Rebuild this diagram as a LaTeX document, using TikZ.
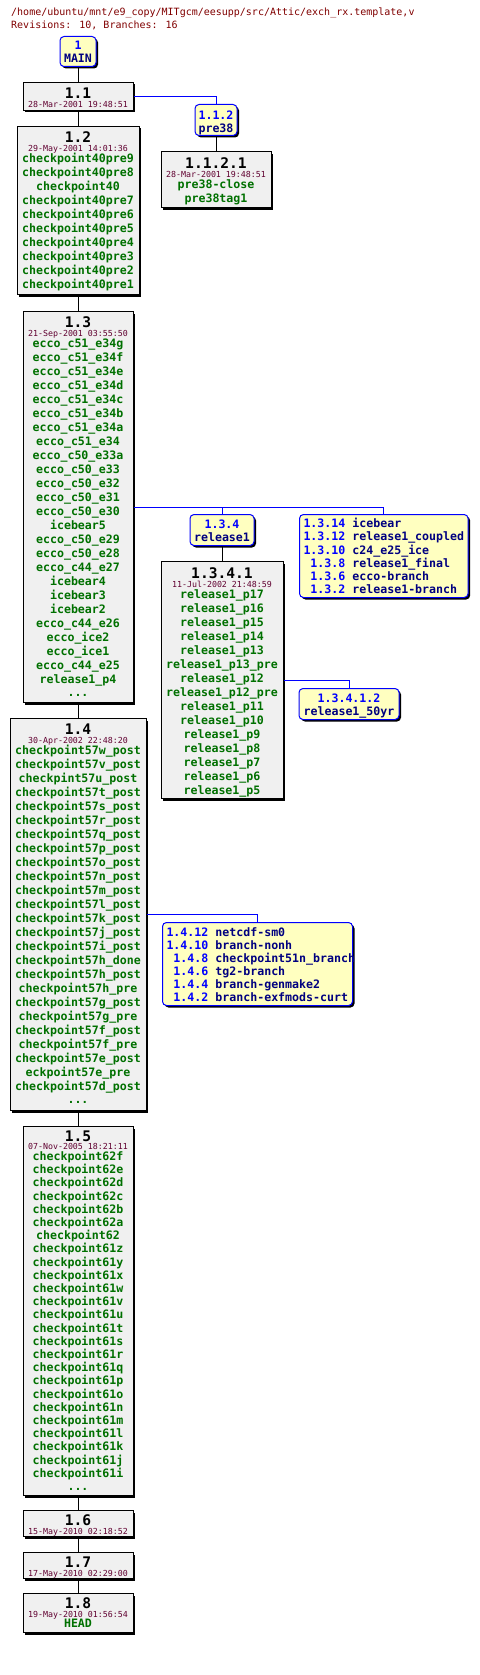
\documentclass[tikz,border=0pt]{standalone}
\usepackage{fontspec}
\usepackage{array}
\usetikzlibrary{shadows}

\newfontfamily\monofont{DejaVu Sans Mono}

\definecolor{revfill}{HTML}{F0F0F0}
\definecolor{brfill}{HTML}{FFFFC0}
\definecolor{tagcol}{HTML}{007000}
\definecolor{datecol}{HTML}{600030}
\definecolor{headcol}{HTML}{800000}
\definecolor{brnum}{HTML}{0000FF}
\definecolor{brname}{HTML}{000080}

\newcommand\revnum[1]{{\bfseries\color{black}\fontsize{14.6}{14}\selectfont #1}}
\newcommand\revdate[1]{{\mdseries\color{datecol}\fontsize{8.3}{9}\selectfont #1}}

\tikzset{
  boxshadow/.style={drop shadow={shadow xshift=2pt, shadow yshift=-2pt, opacity=1, fill=black}},
  revbox/.style={draw=black, line width=1pt, fill=revfill, boxshadow, anchor=north,
    inner sep=0pt, minimum width=110pt, align=center, text=tagcol,
    font=\monofont\bfseries\fontsize{11.6}{14}\selectfont},
  branchbox/.style={draw=brnum, line width=1pt, fill=brfill, rounded corners=4pt, boxshadow,
    anchor=north, inner sep=0pt, align=center, text=brname,
    font=\monofont\bfseries\fontsize{11.6}{13}\selectfont},
  listbox/.style={draw=brnum, line width=1pt, fill=brfill, rounded corners=4pt, boxshadow,
    anchor=north west, inner xsep=4pt, inner ysep=0pt, text=brname,
    font=\monofont\bfseries\fontsize{11.6}{13}\selectfont},
  trunkline/.style={draw=black, line width=1pt},
  branchline/.style={draw=brnum, line width=1pt}
}

\begin{document}
\begin{tikzpicture}[x=1pt, y=-1pt]
  \useasboundingbox (0,0) rectangle (479,1675);

  % header
  \node[anchor=base west, inner sep=0pt, text=headcol, font=\monofont\fontsize{10}{12}\selectfont]
    (title) at (11,16) {/home/ubuntu/mnt/e9\_copy/MITgcm/eesupp/src/Attic/exch\_rx.template,v};
  \node[anchor=base west, inner sep=0pt, text=headcol, font=\monofont\fontsize{10}{12}\selectfont]
    (stats) at (11,29) {Revisions: 10, Branches: 16};

  % trunk
  \node[branchbox, minimum width=36pt, text height=26.5pt, text depth=3.5pt] (main) at (78,36)
    {\color{brnum}1\\MAIN};
  \node[revbox, text height=25pt, text depth=3pt] (r11) at (78,82)
    {\revnum{1.1}\\[-5pt]\revdate{28-Mar-2001 19:48:51}};
  \node[revbox, minimum width=122pt, text height=162pt, text depth=6pt] (r12) at (78,126)
    {\revnum{1.2}\\[-5pt]\revdate{29-May-2001 14:01:36}\\[-3pt]
     checkpoint40pre9\\checkpoint40pre8\\checkpoint40\\checkpoint40pre7\\checkpoint40pre6\\
     checkpoint40pre5\\checkpoint40pre4\\checkpoint40pre3\\checkpoint40pre2\\checkpoint40pre1};
  \node[revbox, text height=385pt, text depth=6pt] (r13) at (78,311)
    {\revnum{1.3}\\[-5pt]\revdate{21-Sep-2001 03:55:50}\\[-3pt]
     ecco\_c51\_e34g\\ecco\_c51\_e34f\\ecco\_c51\_e34e\\ecco\_c51\_e34d\\ecco\_c51\_e34c\\
     ecco\_c51\_e34b\\ecco\_c51\_e34a\\ecco\_c51\_e34\\ecco\_c50\_e33a\\ecco\_c50\_e33\\
     ecco\_c50\_e32\\ecco\_c50\_e31\\ecco\_c50\_e30\\icebear5\\ecco\_c50\_e29\\
     ecco\_c50\_e28\\ecco\_c44\_e27\\icebear4\\icebear3\\icebear2\\
     ecco\_c44\_e26\\ecco\_ice2\\ecco\_ice1\\ecco\_c44\_e25\\release1\_p4\\[-1pt]...};
  \node[revbox, minimum width=136pt, text height=385pt, text depth=7pt] (r14) at (78,718)
    {\revnum{1.4}\\[-5pt]\revdate{30-Apr-2002 22:48:20}\\[-2.5pt]
     checkpoint57w\_post\\checkpoint57v\_post\\checkpint57u\_post\\checkpoint57t\_post\\
     checkpoint57s\_post\\checkpoint57r\_post\\checkpoint57q\_post\\checkpoint57p\_post\\
     checkpoint57o\_post\\checkpoint57n\_post\\checkpoint57m\_post\\checkpoint57l\_post\\
     checkpoint57k\_post\\checkpoint57j\_post\\checkpoint57i\_post\\checkpoint57h\_done\\
     checkpoint57h\_post\\checkpoint57h\_pre\\checkpoint57g\_post\\checkpoint57g\_pre\\
     checkpoint57f\_post\\checkpoint57f\_pre\\checkpoint57e\_post\\eckpoint57e\_pre\\
     checkpoint57d\_post\\[-1pt]...};
  \node[revbox, text height=363.5pt, text depth=5.5pt,
    font=\monofont\bfseries\fontsize{11.6}{13.2}\selectfont] (r15) at (78,1126)
    {\revnum{1.5}\\[-5.2pt]\revdate{07-Nov-2005 18:21:11}\\[-2.2pt]
     checkpoint62f\\checkpoint62e\\checkpoint62d\\checkpoint62c\\checkpoint62b\\
     checkpoint62a\\checkpoint62\\checkpoint61z\\checkpoint61y\\checkpoint61x\\
     checkpoint61w\\checkpoint61v\\checkpoint61u\\checkpoint61t\\checkpoint61s\\
     checkpoint61r\\checkpoint61q\\checkpoint61p\\checkpoint61o\\checkpoint61n\\
     checkpoint61m\\checkpoint61l\\checkpoint61k\\checkpoint61j\\checkpoint61i\\[-0.5pt]...};
  \node[revbox, text height=23.5pt, text depth=2.5pt] (r16) at (78,1510)
    {\revnum{1.6}\\[-5.5pt]\revdate{15-May-2010 02:18:52}};
  \node[revbox, text height=23.5pt, text depth=2.5pt] (r17) at (78,1552)
    {\revnum{1.7}\\[-5.5pt]\revdate{17-May-2010 02:29:00}};
  \node[revbox, text height=34pt, text depth=5pt] (r18) at (78,1593)
    {\revnum{1.8}\\[-5.5pt]\revdate{19-May-2010 01:56:54}\\[-3.5pt]HEAD};

  % branch 1.1.2
  \node[branchbox, minimum width=42pt, text height=27.5pt, text depth=3.5pt] (b112) at (216,104)
    {\color{brnum}1.1.2\\pre38};
  \node[revbox, text height=50.5pt, text depth=5.5pt] (r1121) at (216,151)
    {\revnum{1.1.2.1}\\[-5pt]\revdate{28-Mar-2001 19:48:51}\\[-3pt]pre38-close\\pre38tag1};

  % branches of 1.3
  \node[branchbox, minimum width=64pt, text height=27.3pt, text depth=3.7pt] (b134) at (222,514)
    {\color{brnum}1.3.4\\release1};
  \node[revbox, minimum width=122pt, text height=232.5pt, text depth=4.5pt] (r1341) at (222,561)
    {\revnum{1.3.4.1}\\[-5pt]\revdate{11-Jul-2002 21:48:59}\\[-3pt]
     release1\_p17\\release1\_p16\\release1\_p15\\release1\_p14\\release1\_p13\\
     release1\_p13\_pre\\release1\_p12\\release1\_p12\_pre\\release1\_p11\\release1\_p10\\
     release1\_p9\\release1\_p8\\release1\_p7\\release1\_p6\\release1\_p5};
  \node[branchbox, minimum width=100pt, text height=26.7pt, text depth=4.3pt] (b13412) at (349,688)
    {\color{brnum}1.3.4.1.2\\release1\_50yr};
  \node[listbox, text height=79pt, text depth=4pt] (b1314) at (299,514)
    {\begin{tabular}[b]{@{}>{\color{brnum}}r@{\ }l@{}}
       1.3.14 & icebear\\
       1.3.12 & release1\_coupled\\
       1.3.10 & c24\_e25\_ice\\
       1.3.8 & release1\_final\\
       1.3.6 & ecco-branch\\
       1.3.2 & release1-branch
     \end{tabular}};

  % branches of 1.4
  \node[listbox, text height=79pt, text depth=4pt] (b1412) at (162,922)
    {\makebox[182pt][l]{\begin{tabular}[b]{@{}>{\color{brnum}}r@{\ }l@{}}
       1.4.12 & netcdf-sm0\\
       1.4.10 & branch-nonh\\
       1.4.8 & checkpoint51n\_branch\\
       1.4.6 & tg2-branch\\
       1.4.4 & branch-genmake2\\
       1.4.2 & branch-exfmods-curt
     \end{tabular}}};

  % trunk lines
  \draw[trunkline] (main) -- (r11);
  \draw[trunkline] (r11) -- (r12);
  \draw[trunkline] (r12) -- (r13);
  \draw[trunkline] (r13) -- (r14);
  \draw[trunkline] (r14) -- (r15);
  \draw[trunkline] (r15) -- (r16);
  \draw[trunkline] (r16) -- (r17);
  \draw[trunkline] (r17) -- (r18);
  \draw[trunkline] (b112) -- (r1121);
  \draw[trunkline] (b134) -- (r1341);

  % branch lines
  \draw[branchline] (r11.east) -| (b112.north);
  \draw[branchline] (r13.east) -| (b134.north);
  \draw[branchline] (r13.east) -| (b1314.north);
  \draw[branchline] (r1341.east) -| (b13412.north);
  \draw[branchline] (r14.east) -| (b1412.north);

\end{tikzpicture}
\end{document}
